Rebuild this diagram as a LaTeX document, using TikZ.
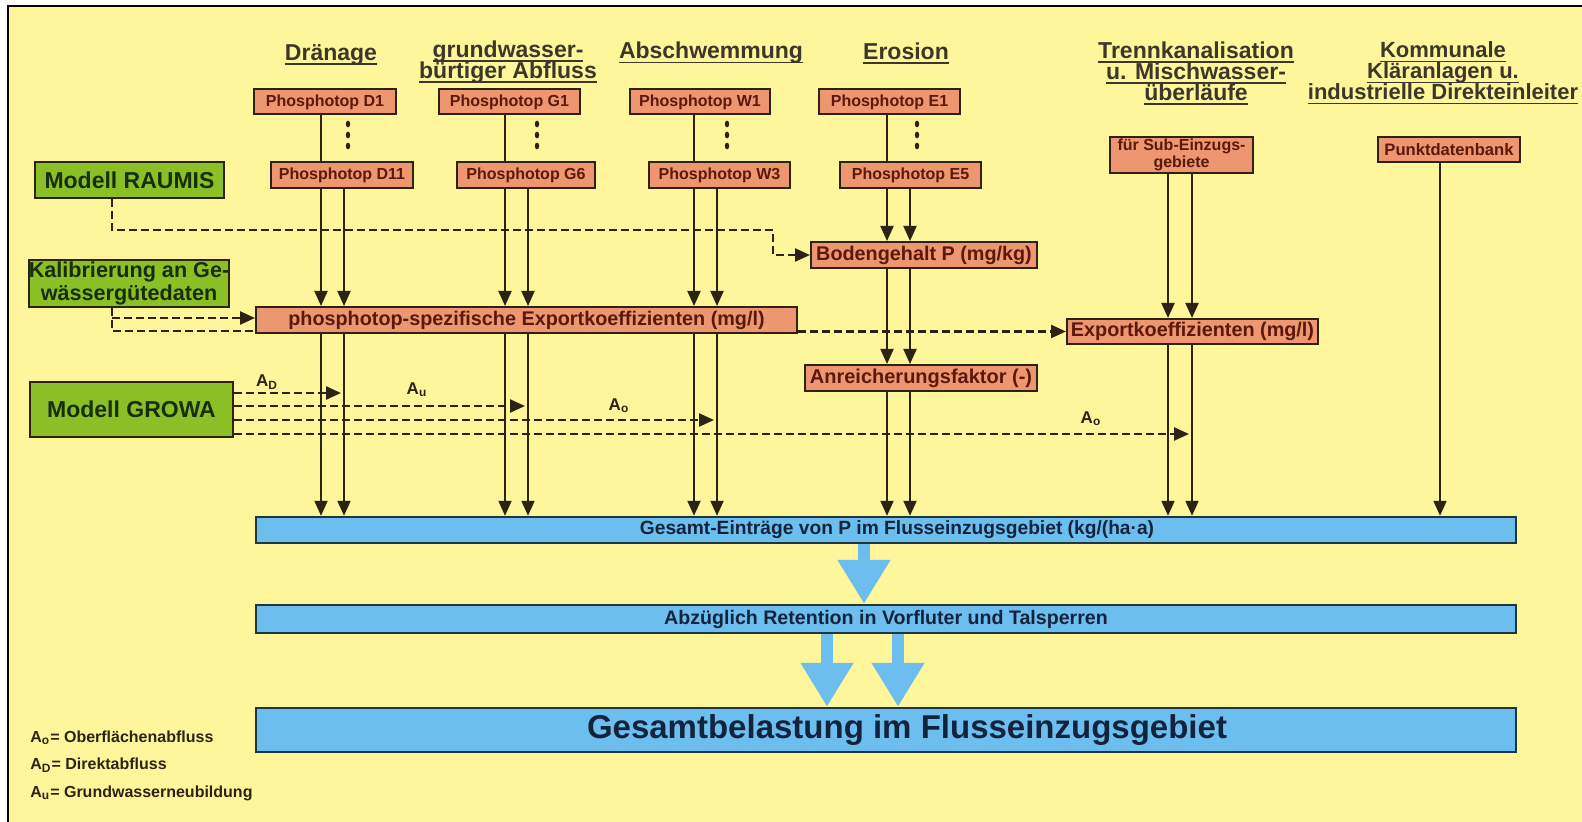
\documentclass[tikz,border=0pt]{standalone}
\usepackage{fontspec}
\setmainfont{Liberation Sans}
\usetikzlibrary{arrows.meta}

\newcommand{\uln}[1]{\leavevmode\setbox0\hbox{#1}\rlap{\rule[-2.2pt]{\wd0}{0.8pt}}\box0}
\newcommand{\tightlines}{\lineskiplimit=-10pt\relax}

\definecolor{bgyellow}{RGB}{255,246,155}
\definecolor{boxorange}{RGB}{238,150,112}
\definecolor{boxgreen}{RGB}{138,192,38}
\definecolor{boxblue}{RGB}{108,190,238}
\definecolor{darkline}{RGB}{45,35,20}
\definecolor{bardark}{RGB}{30,55,60}
\definecolor{orangetext}{RGB}{90,25,10}
\definecolor{greentext}{RGB}{25,45,10}
\definecolor{bluetext}{RGB}{20,35,60}
\definecolor{headtext}{RGB}{60,55,40}

\begin{document}
\begin{tikzpicture}[x=0.5pt, y=-0.5pt, >={Triangle[width=6.5pt,length=7.5pt]},
  phos/.style={draw=darkline, line width=1pt, fill=boxorange, text=orangetext,
    font=\bfseries\fontsize{8}{9}\selectfont, minimum height=12.5pt, inner sep=0pt},
  model/.style={draw=darkline, line width=1pt, fill=boxgreen, text=greentext,
    font=\bfseries\fontsize{11.5}{12}\selectfont, inner sep=0pt},
  bar/.style={draw=bardark, line width=1.2pt, fill=boxblue, text=bluetext,
    font=\bfseries\fontsize{9.8}{11}\selectfont, minimum width=630pt, inner sep=0pt},
  head/.style={text=headtext, font={\bfseries\fontsize{11.5}{10.5}\selectfont\tightlines}, align=center},
  flow/.style={draw=darkline, line width=1pt},
  dashflow/.style={draw=darkline, line width=1.2pt, dash pattern=on 4pt off 2pt},
  bigarrow/.style={draw=boxblue, line width=6pt, -{Triangle[width=25pt,length=22pt]}},
  alabel/.style={text=darkline, font=\bfseries\fontsize{8.5}{9}\selectfont, inner sep=0pt},
  legend/.style={text=darkline, font=\bfseries\fontsize{8}{9}\selectfont, inner sep=0pt, anchor=west}]
  % Background and frame
  \clip (0,0) rectangle (1582,822);
  \fill[white] (0,0) rectangle (1582,822);
  \draw[line width=1.2pt, fill=bgyellow] (8,6) rectangle (1600,840);

  % Headings
  \node[head] (hD) at (331,55) {\uln{Dränage}};
  \node[head] (hG) at (508,62) {\uln{grundwasser-}\\\uln{bürtiger Abfluss}};
  \node[head] (hW) at (711,53) {\uln{Abschwemmung}};
  \node[head] (hE) at (906,53) {\uln{Erosion}};
  \node[head] (hT) at (1196,73) {\uln{Trennkanalisation}\\\uln{u. Mischwasser-}\\\uln{überläufe}};
  \node[head, font={\bfseries\fontsize{11}{10.5}\selectfont\tightlines}] (hK) at (1443,73) {\uln{Kommunale}\\\uln{Kläranlagen u.}\\\uln{industrielle Direkteinleiter}};

  % Phosphotope
  \node[phos, minimum width=71pt] (D1) at (325,102) {Phosphotop D1};
  \node[phos, minimum width=70.5pt] (G1) at (509.5,102) {Phosphotop G1};
  \node[phos, minimum width=70pt] (W1) at (700,102) {Phosphotop W1};
  \node[phos, minimum width=70.5pt] (E1) at (889.5,102) {Phosphotop E1};
  \node[phos, minimum width=71pt, minimum height=13pt] (D11) at (342,175) {Phosphotop D11};
  \node[phos, minimum width=69pt, minimum height=13pt] (G6) at (526,175) {Phosphotop G6};
  \node[phos, minimum width=70.5pt, minimum height=13pt] (W3) at (719.5,175) {Phosphotop W3};
  \node[phos, minimum width=70.5pt, minimum height=13pt] (E5) at (910.5,175) {Phosphotop E5};
  \node[phos, minimum width=71.5pt, minimum height=18pt, align=center,
    font=\bfseries\fontsize{8}{7}\selectfont] (sub) at (1181.5,155) {für Sub-Einzugs-\\gebiete};
  \node[phos, minimum width=71pt, font=\bfseries\fontsize{8.3}{9}\selectfont] (punkt) at (1449,149.5) {Punktdatenbank};

  % Dots
  \foreach \x in {348,537,727,917}
    \foreach \y in {124,135,146}
      \fill[darkline] (\x,\y) ellipse (1.1pt and 1.7pt);

  % Intermediate boxes
  \node[phos, minimum width=113pt, minimum height=13pt, font=\bfseries\fontsize{9.9}{10}\selectfont] (boden) at (924,255) {Bodengehalt P (mg/kg)};
  \node[phos, minimum width=270.5pt, minimum height=13pt, font=\bfseries\fontsize{9.9}{10}\selectfont] (expk) at (526.5,320) {phosphotop-spezifische Exportkoeffizienten (mg/l)};
  \node[phos, minimum width=125.5pt, minimum height=12.5pt, font=\bfseries\fontsize{9.9}{10}\selectfont] (ek) at (1192.5,331.5) {Exportkoeffizienten (mg/l)};
  \node[phos, minimum width=116pt, minimum height=13pt, font=\bfseries\fontsize{10}{10}\selectfont] (anr) at (921,378) {Anreicherungsfaktor (-)};

  % Models
  \node[model, minimum width=94.5pt, minimum height=18pt] (raumis) at (129.5,180) {Modell RAUMIS};
  \node[model, minimum width=99pt, minimum height=23.5pt, align=center,
    font=\bfseries\fontsize{10.8}{9.5}\selectfont] (kal) at (129,283.5) {Kalibrierung an Ge-\\wässergütedaten};
  \node[model, minimum width=101.5pt, minimum height=27.5pt] (growa) at (131.5,409.5) {Modell GROWA};

  % Result bars
  \node[bar, minimum height=13pt, font=\bfseries\fontsize{9.6}{11}\selectfont] (ges) at (886,530) {\hspace*{11pt}Gesamt-Einträge von P im Flusseinzugsgebiet (kg/(ha·a)};
  \node[bar, minimum height=14pt] (abz) at (886,619) {Abzüglich Retention in Vorfluter und Talsperren};
  \node[bar, minimum height=22pt, font=\bfseries\fontsize{16.5}{18}\selectfont] (belast) at (886,730) {\hspace*{21pt}Gesamtbelastung im Flusseinzugsgebiet};

  % Columns
  \coordinate (dL) at (321,0); \coordinate (dR) at (344,0);
  \coordinate (gL) at (505,0); \coordinate (gR) at (528,0);
  \coordinate (wL) at (694,0); \coordinate (wR) at (717,0);
  \coordinate (eL) at (887,0); \coordinate (eR) at (910,0);
  \coordinate (tL) at (1168,0); \coordinate (tR) at (1192,0);
  \coordinate (pC) at (1440,0);

  % Draenage, Grundwasser, Abschwemmung
  \foreach \l/\r/\a/\b in {dL/dR/D1/D11, gL/gR/G1/G6, wL/wR/W1/W3} {
    \draw[flow] (\l |- \a.south) -- (\l |- \b.north);
    \draw[flow, ->] (\l |- \b.south) -- (\l |- expk.north);
    \draw[flow, ->] (\r |- \b.south) -- (\r |- expk.north);
    \draw[flow, ->] (\l |- expk.south) -- (\l |- ges.north);
    \draw[flow, ->] (\r |- expk.south) -- (\r |- ges.north);
  }

  % Erosion
  \draw[flow] (eL |- E1.south) -- (eL |- E5.north);
  \foreach \c in {eL, eR} {
    \draw[flow, ->] (\c |- E5.south) -- (\c |- boden.north);
    \draw[flow, ->] (\c |- boden.south) -- (\c |- anr.north);
    \draw[flow, ->] (\c |- anr.south) -- (\c |- ges.north);
  }

  % Trennkanalisation
  \foreach \c in {tL, tR} {
    \draw[flow, ->] (\c |- sub.south) -- (\c |- ek.north);
    \draw[flow, ->] (\c |- ek.south) -- (\c |- ges.north);
  }

  % Punktquellen
  \draw[flow, ->] (pC |- punkt.south) -- (pC |- ges.north);

  % RAUMIS
  \coordinate (rA) at (112,230);
  \coordinate (rB) at (773,256);
  \draw[dashflow, ->] (raumis.south -| rA) -- (rA) -- (rA -| rB) -- (rB |- boden.west) -- (boden.west);

  % Kalibrierung
  \coordinate (kA) at (112,318);
  \coordinate (kB) at (112,331);
  \draw[dashflow] (kal.south -| kB) -- (kB) -- (kB -| expk.west);
  \draw[dashflow, ->] (kA) -- (kA -| expk.west);
  \draw[dashflow, ->] (expk.east |- ek.west) -- (ek.west);

  % GROWA
  \foreach \y/\c in {393/dR, 406/gR, 420/wR, 434/tR}
    \draw[dashflow, ->, shorten >=1.5pt] (growa.east |- 0,\y) -- (\c |- 0,\y);
  \node[alabel] (aD) at (267,382) {A\textsubscript{D}};
  \node[alabel] (aU) at (417,390) {A\textsubscript{u}};
  \node[alabel] (aO) at (619,406) {A\textsubscript{o}};
  \node[alabel] (aT) at (1091,419) {A\textsubscript{o}};

  % Big arrows
  \coordinate (b1) at (864,0);
  \coordinate (b2) at (827,0);
  \coordinate (b3) at (898,0);
  \draw[bigarrow] (b1 |- ges.south) -- (b1 |- abz.north);
  \draw[bigarrow] (b2 |- abz.south) -- (b2 |- belast.north);
  \draw[bigarrow] (b3 |- abz.south) -- (b3 |- belast.north);

  % Legend
  \node[legend] (l1) at (30,738) {A\textsubscript{o}= Oberflächenabfluss};
  \node[legend] (l2) at (30,765) {A\textsubscript{D}= Direktabfluss};
  \node[legend] (l3) at (30,793) {A\textsubscript{u}= Grundwasserneubildung};
\end{tikzpicture}
\end{document}
